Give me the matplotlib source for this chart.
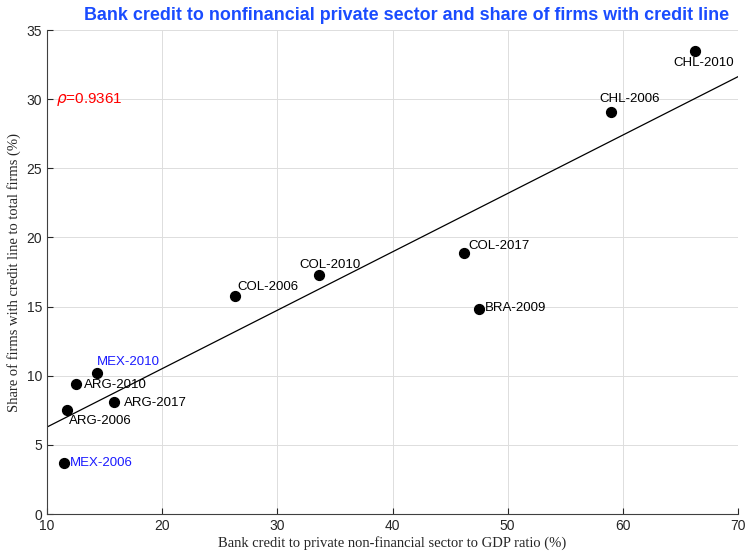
import numpy as np
import matplotlib.pyplot as plt

# Data
labels = ['MEX-2006', 'ARG-2006', 'ARG-2010', 'MEX-2010', 'ARG-2017',
          'COL-2006', 'COL-2010', 'COL-2017', 'BRA-2009', 'CHL-2006', 'CHL-2010']
credit_gdp = [11.5, 11.7, 12.5, 14.35, 15.8, 26.3, 33.6, 46.2, 47.5, 59.0, 66.3]
share_firms = [3.7, 7.5, 9.4, 10.2, 8.1, 15.8, 17.3, 18.9, 14.8, 29.1, 33.5]
rho_text = r'$\rho$=0.9361'

# label offsets (points) and alignment
offsets = {
    'MEX-2006': ((4, 0), 'left', 'center'),
    'ARG-2006': ((2, -8), 'left', 'center'),
    'ARG-2010': ((6, -1), 'left', 'center'),
    'MEX-2010': ((0, 8), 'left', 'center'),
    'ARG-2017': ((7, -1), 'left', 'center'),
    'COL-2006': ((2, 6), 'left', 'center'),
    'COL-2010': ((8, 7), 'center', 'center'),
    'COL-2017': ((3, 5), 'left', 'center'),
    'BRA-2009': ((4, 1), 'left', 'center'),
    'CHL-2006': ((13, 9), 'center', 'center'),
    'CHL-2010': ((6, -9), 'center', 'center'),
}
blue_labels = ['MEX-2006', 'MEX-2010']

plt.rcParams['font.family'] = ['Liberation Sans', 'DejaVu Sans']

fig = plt.figure(figsize=(7.46, 5.51), dpi=100)
ax = fig.add_axes([47 / 746, 37 / 551, 691 / 746, 484 / 551])

# linear fit
coef = np.polyfit(credit_gdp, share_firms, 1)
xs = np.array([10, 70])
ax.plot(xs, np.polyval(coef, xs), color='black', linewidth=0.9)

ax.scatter(credit_gdp, share_firms, s=50, color='black', zorder=3)

for lab, xv, yv in zip(labels, credit_gdp, share_firms):
    (dx, dy), ha, va = offsets[lab]
    col = '#1a1aff' if lab in blue_labels else 'black'
    ax.annotate(lab, (xv, yv), xytext=(dx, dy), textcoords='offset points',
                ha=ha, va=va, fontsize=9.5, color=col)

ax.text(10.8, 30, rho_text, color='red', fontsize=11, va='center', ha='left')

ax.set_xlim(10, 70)
ax.set_ylim(0, 35)
ax.set_xticks(np.arange(10, 71, 10))
ax.set_yticks(np.arange(0, 36, 5))
ax.grid(True, color='#dddddd', linewidth=0.7)
ax.set_axisbelow(True)
ax.tick_params(direction='in', length=4, labelsize=10, colors='#262626')
for s in ['top', 'right']:
    ax.spines[s].set_visible(False)
for s in ['left', 'bottom']:
    ax.spines[s].set_color('#404040')

ax.set_xlabel('Bank credit to private non-financial sector to GDP ratio (%)',
              family='Liberation Serif', fontsize=10.5, color='#262626', labelpad=2)
ax.set_ylabel('Share of firms with credit line to total firms (%)',
              family='Liberation Serif', fontsize=10.5, color='#262626', labelpad=4)
ax.set_title('Bank credit to nonfinancial private sector and share of firms with credit line',
             color='#1a4cff', fontweight='bold', fontsize=12.9, pad=7, x=0.521)

fig.savefig('out.png', dpi=100)
